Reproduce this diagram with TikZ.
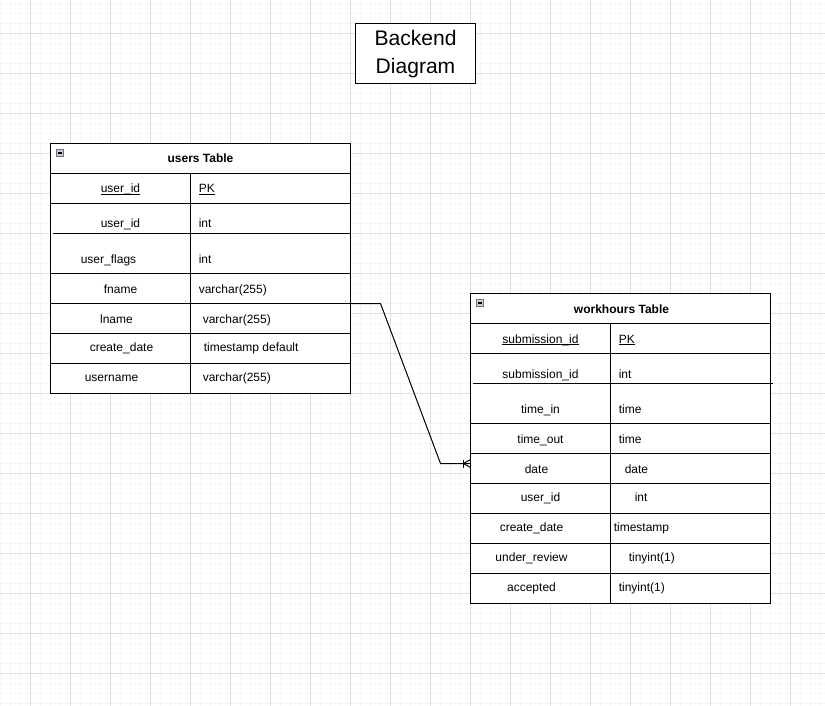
\documentclass[tikz,border=0pt]{standalone}
\usepackage{fontspec}
\setmainfont{Liberation Sans}
\usetikzlibrary{fit}
\definecolor{gridminor}{HTML}{F6F6F6}
\definecolor{gridmajor}{HTML}{DFDFDF}
\definecolor{iconfill}{HTML}{C8CAD2}
\definecolor{iconedge}{HTML}{70707A}
\newcommand{\ulin}[1]{\setbox0\hbox{#1}\rlap{\rule[-1.3pt]{\wd0}{0.7pt}}\box0}
\tikzset{
  tline/.style={draw=black, line width=0.75pt},
  tbox/.style={draw=black, line width=0.75pt, inner sep=0pt, fill=white},
  cellc/.style={font=\fontsize{9}{11}\selectfont, inner sep=0pt, anchor=base},
  celll/.style={font=\fontsize{9}{11}\selectfont, inner sep=0pt, anchor=base west},
  hdr/.style={font=\fontsize{9}{11}\selectfont\bfseries, inner sep=0pt, anchor=base},
  ttl/.style={font=\fontsize{15.8}{20}\selectfont, inner sep=0pt, anchor=base},
  icon/.style={draw=iconedge, fill=iconfill, line width=0.6pt, minimum size=5.25pt, inner sep=0pt},
  conn/.style={draw=black, line width=0.75pt},
}
\begin{document}
\begin{tikzpicture}[x=0.75pt,y=-0.75pt]
\useasboundingbox (0,0) rectangle (825,706);
\fill[white] (0,0) rectangle (825,706);
\begin{scope}[shift={(0.5,0.5)}]
% grid
\foreach \x in {0,10,...,820} \draw[gridminor, line width=0.75pt] (\x,-1) -- (\x,706);
\foreach \y in {3,13,...,703} \draw[gridminor, line width=0.75pt] (-1,\y) -- (825,\y);
\foreach \x in {30,70,...,810} \draw[gridmajor, line width=0.75pt] (\x,-1) -- (\x,706);
\foreach \y in {33,73,...,673} \draw[gridmajor, line width=0.75pt] (-1,\y) -- (825,\y);

% title
\node[tbox, fit={(355,23) (475,83)}] (title) {};
\node[ttl] (title1) at (415,45.3) {Backend};
\node[ttl] (title2) at (415,73) {Diagram};

% ---------------- users table ----------------
\node[tbox, fit={(50,143) (350,393)}] (users) {};
\draw[tline] (50,173) -- (350,173);
\draw[tline] (50,203) -- (350,203);
\draw[tline] (52,233) -- (350,233);
\draw[tline] (50,273) -- (350,273);
\draw[tline] (50,303) -- (350,303);
\draw[tline] (50,333) -- (350,333);
\draw[tline] (50,363) -- (350,363);
\draw[tline] (190,173) -- (190,393);
\node[icon] (usersicon) at (59.5,152.5) {};
\draw[black, line width=0.9pt] (57.5,152.5) -- (61.5,152.5);
\node[hdr] (usershdr) at (200,162.5) {users Table};
\node[cellc] (u1a) at (120,192.5) {\ulin{user\_id}};
\node[celll] (u1b) at (198,192.5) {\ulin{PK}};
\node[cellc] (u2a) at (120,227.5) {user\_id};
\node[celll] (u2b) at (198,227.5) {int};
\node[cellc] (u3a) at (108,262.5) {user\_flags};
\node[celll] (u3b) at (198,262.5) {int};
\node[cellc] (u4a) at (120,292.5) {fname};
\node[celll] (u4b) at (198,292.5) {varchar(255)};
\node[cellc] (u5a) at (116,322.5) {lname};
\node[celll] (u5b) at (202,322.5) {varchar(255)};
\node[cellc] (u6a) at (121,350.5) {create\_date};
\node[celll] (u6b) at (203,350.5) {timestamp default};
\node[cellc] (u7a) at (111,380.5) {username};
\node[celll] (u7b) at (202,380.5) {varchar(255)};

% ---------------- workhours table ----------------
\node[tbox, fit={(470,293) (770,603)}] (work) {};
\draw[tline] (470,323) -- (770,323);
\draw[tline] (470,353) -- (770,353);
\draw[tline] (472,383) -- (772,383);
\draw[tline] (470,423) -- (770,423);
\draw[tline] (470,453) -- (770,453);
\draw[tline] (470,483) -- (770,483);
\draw[tline] (470,513) -- (770,513);
\draw[tline] (470,543) -- (770,543);
\draw[tline] (470,573) -- (770,573);
\draw[tline] (610,323) -- (610,603);
\node[icon] (workicon) at (479.5,302.5) {};
\draw[black, line width=0.9pt] (477.5,302.5) -- (481.5,302.5);
\node[hdr] (workhdr) at (621,312.5) {workhours Table};
\node[cellc] (w1a) at (540,342.5) {\ulin{submission\_id}};
\node[celll] (w1b) at (618,342.5) {\ulin{PK}};
\node[cellc] (w2a) at (540,377.5) {submission\_id};
\node[celll] (w2b) at (618,377.5) {int};
\node[cellc] (w3a) at (540,412.5) {time\_in};
\node[celll] (w3b) at (618,412.5) {time};
\node[cellc] (w4a) at (540,442.5) {time\_out};
\node[celll] (w4b) at (618,442.5) {time};
\node[cellc] (w5a) at (536,472.5) {date};
\node[celll] (w5b) at (624,472.5) {date};
\node[cellc] (w6a) at (540,500.5) {user\_id};
\node[celll] (w6b) at (634,500.5) {int};
\node[cellc] (w7a) at (531,530.5) {create\_date};
\node[celll] (w7b) at (613,530.5) {timestamp};
\node[cellc] (w8a) at (531,560.5) {under\_review};
\node[celll] (w8b) at (628,560.5) {tinyint(1)};
\node[cellc] (w9a) at (531,590.5) {accepted};
\node[celll] (w9b) at (618,590.5) {tinyint(1)};

% ---------------- connector ----------------
\coordinate (ufname) at (350,303);
\coordinate (bend1) at (380,303);
\coordinate (bend2) at (440,463);
\coordinate (wdate) at (470,463);
\coordinate (cfoot) at (463,463);
\coordinate (ctop) at (470,459);
\coordinate (cbot) at (470,467);
\draw[conn] (ufname) -- (bend1) -- (bend2) -- (wdate);
\draw[conn] (463,459) -- (463,467);
\draw[conn] (ctop) -- (cfoot) -- (cbot);
\end{scope}
\end{tikzpicture}
\end{document}
